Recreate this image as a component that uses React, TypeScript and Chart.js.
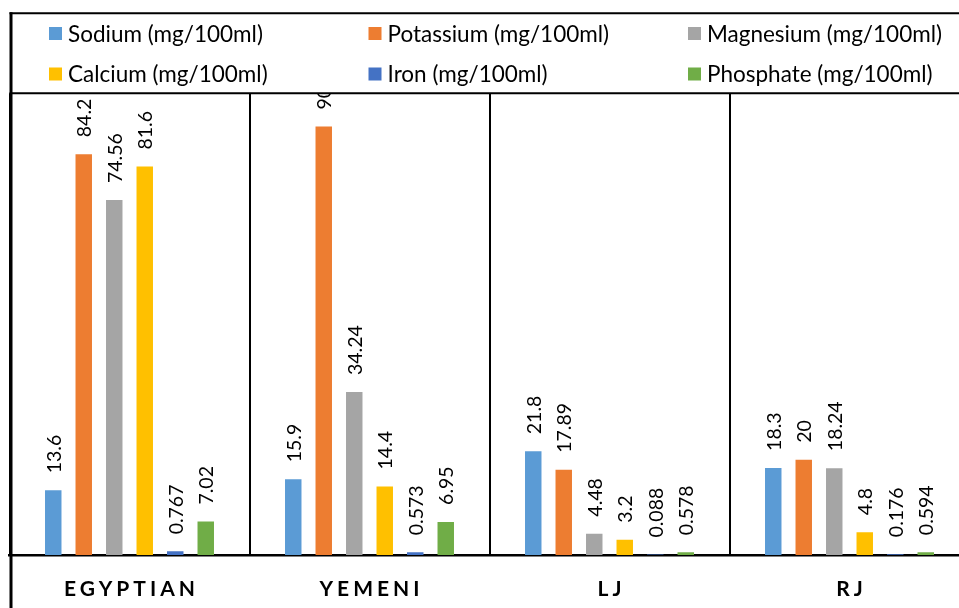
import { useEffect, useRef } from "react";
import { Chart, registerables } from "chart.js";

Chart.register(...registerables);

// Mineral content of four samples
const categories = ["EGYPTIAN", "YEMENI", "LJ", "RJ"];
const sodium = [13.6, 15.9, 21.8, 18.3];
const potassium = [84.2, 90, 17.89, 20];
const magnesium = [74.56, 34.24, 4.48, 18.24];
const calcium = [81.6, 14.4, 3.2, 4.8];
const iron = [0.767, 0.573, 0.088, 0.176];
const phosphate = [7.02, 6.95, 0.578, 0.594];

const seriesNames = [
  "Sodium (mg/100ml)",
  "Potassium (mg/100ml)",
  "Magnesium (mg/100ml)",
  "Calcium (mg/100ml)",
  "Iron (mg/100ml)",
  "Phosphate (mg/100ml)",
];
const seriesValues = [sodium, potassium, magnesium, calcium, iron, phosphate];
const seriesColors = ["#5B9BD5", "#ED7D31", "#A5A5A5", "#FFC000", "#4472C4", "#70AD47"];

const CANVAS_W = 1000;
const CANVAS_H = 608;

// Rotated value labels above each bar
const valueLabels = {
  id: "valueLabels",
  afterDatasetsDraw(chart: any) {
    const ctx = chart.ctx;
    ctx.save();
    ctx.font = "19.5px Lato, 'Open Sans', sans-serif";
    ctx.fillStyle = "#000";
    ctx.textAlign = "left";
    ctx.textBaseline = "middle";
    chart.data.datasets.forEach((ds: any, di: number) => {
      const meta = chart.getDatasetMeta(di);
      meta.data.forEach((el: any, i: number) => {
        ctx.save();
        ctx.translate(el.x + 1, el.y - 17);
        ctx.rotate(-Math.PI / 2);
        ctx.fillText(String(ds.data[i]), 0, 0);
        ctx.restore();
      });
    });
    ctx.restore();
  },
};

// Legend box, frame and spaced category names
const frameAndLegend = {
  id: "frameAndLegend",
  afterDraw(chart: any) {
    const ctx = chart.ctx;
    const W = chart.width;
    const H = chart.height;
    const legendBottom = 93.3;
    ctx.save();

    ctx.fillStyle = "#fff";
    ctx.fillRect(0, 0, W, legendBottom);

    ctx.strokeStyle = "#000";
    ctx.lineWidth = 2;
    ctx.beginPath();
    ctx.moveTo(9.5, 13.3);
    ctx.lineTo(W, 13.3);
    ctx.moveTo(9.5, legendBottom);
    ctx.lineTo(W, legendBottom);
    ctx.stroke();

    ctx.lineWidth = 3;
    ctx.beginPath();
    ctx.moveTo(11, 12.3);
    ctx.lineTo(11, H);
    ctx.stroke();

    // legend entries, three per row
    const colX = [49, 368.5, 688];
    const rowY = [33.5, 74];
    ctx.font = "22.5px Lato, 'Open Sans', sans-serif";
    ctx.textAlign = "left";
    ctx.textBaseline = "middle";
    chart.data.datasets.forEach((ds: any, i: number) => {
      const x = colX[i % 3];
      const y = rowY[Math.floor(i / 3)];
      ctx.fillStyle = ds.backgroundColor;
      ctx.fillRect(x, y - 6.5, 13, 13);
      ctx.fillStyle = "#000";
      ctx.fillText(ds.label, x + 19, y + 1);
    });

    // category names under the axis
    const xScale = chart.scales.x;
    const spacing = 4;
    ctx.font = "bold 21px Lato, 'Open Sans', sans-serif";
    (ctx as any).letterSpacing = spacing + "px";
    ctx.textAlign = "left";
    ctx.textBaseline = "middle";
    ctx.fillStyle = "#000";
    chart.data.labels.forEach((lab: string, i: number) => {
      const cx = xScale.getPixelForTick(i);
      const w = ctx.measureText(lab).width - spacing;
      ctx.fillText(lab, cx - w / 2, 589);
    });
    (ctx as any).letterSpacing = "0px";

    ctx.restore();
  },
};

export default function App() {
  const canvasRef = useRef<HTMLCanvasElement | null>(null);

  useEffect(() => {
    const canvas = canvasRef.current;
    if (!canvas) return;
    const chart = new Chart(canvas, {
      type: "bar",
      data: {
        labels: categories,
        datasets: seriesNames.map((name, i) => ({
          label: name,
          data: seriesValues[i],
          backgroundColor: seriesColors[i],
          borderWidth: 0,
          categoryPercentage: 0.7625,
          barPercentage: 0.54,
        })),
      },
      options: {
        responsive: false,
        animation: false,
        devicePixelRatio: 1,
        layout: { padding: { left: 9.5, right: CANVAS_W - 969.5, top: 79, bottom: 53 } },
        plugins: { legend: { display: false }, tooltip: { enabled: false } },
        scales: {
          x: {
            display: true,
            grid: { offset: true, color: "#000", lineWidth: 2, drawTicks: false },
            border: { display: true, color: "#000", width: 2.5 },
            ticks: { display: false },
          },
          y: { display: false, min: 0, max: 100 },
        },
      },
      plugins: [valueLabels, frameAndLegend],
    });
    return () => chart.destroy();
  }, []);

  return (
    <div
      style={{
        position: "fixed",
        left: 0,
        top: 0,
        width: 959,
        height: 608,
        overflow: "hidden",
        background: "#fff",
      }}
    >
      <canvas ref={canvasRef} width={CANVAS_W} height={CANVAS_H} style={{ display: "block" }} />
    </div>
  );
}
